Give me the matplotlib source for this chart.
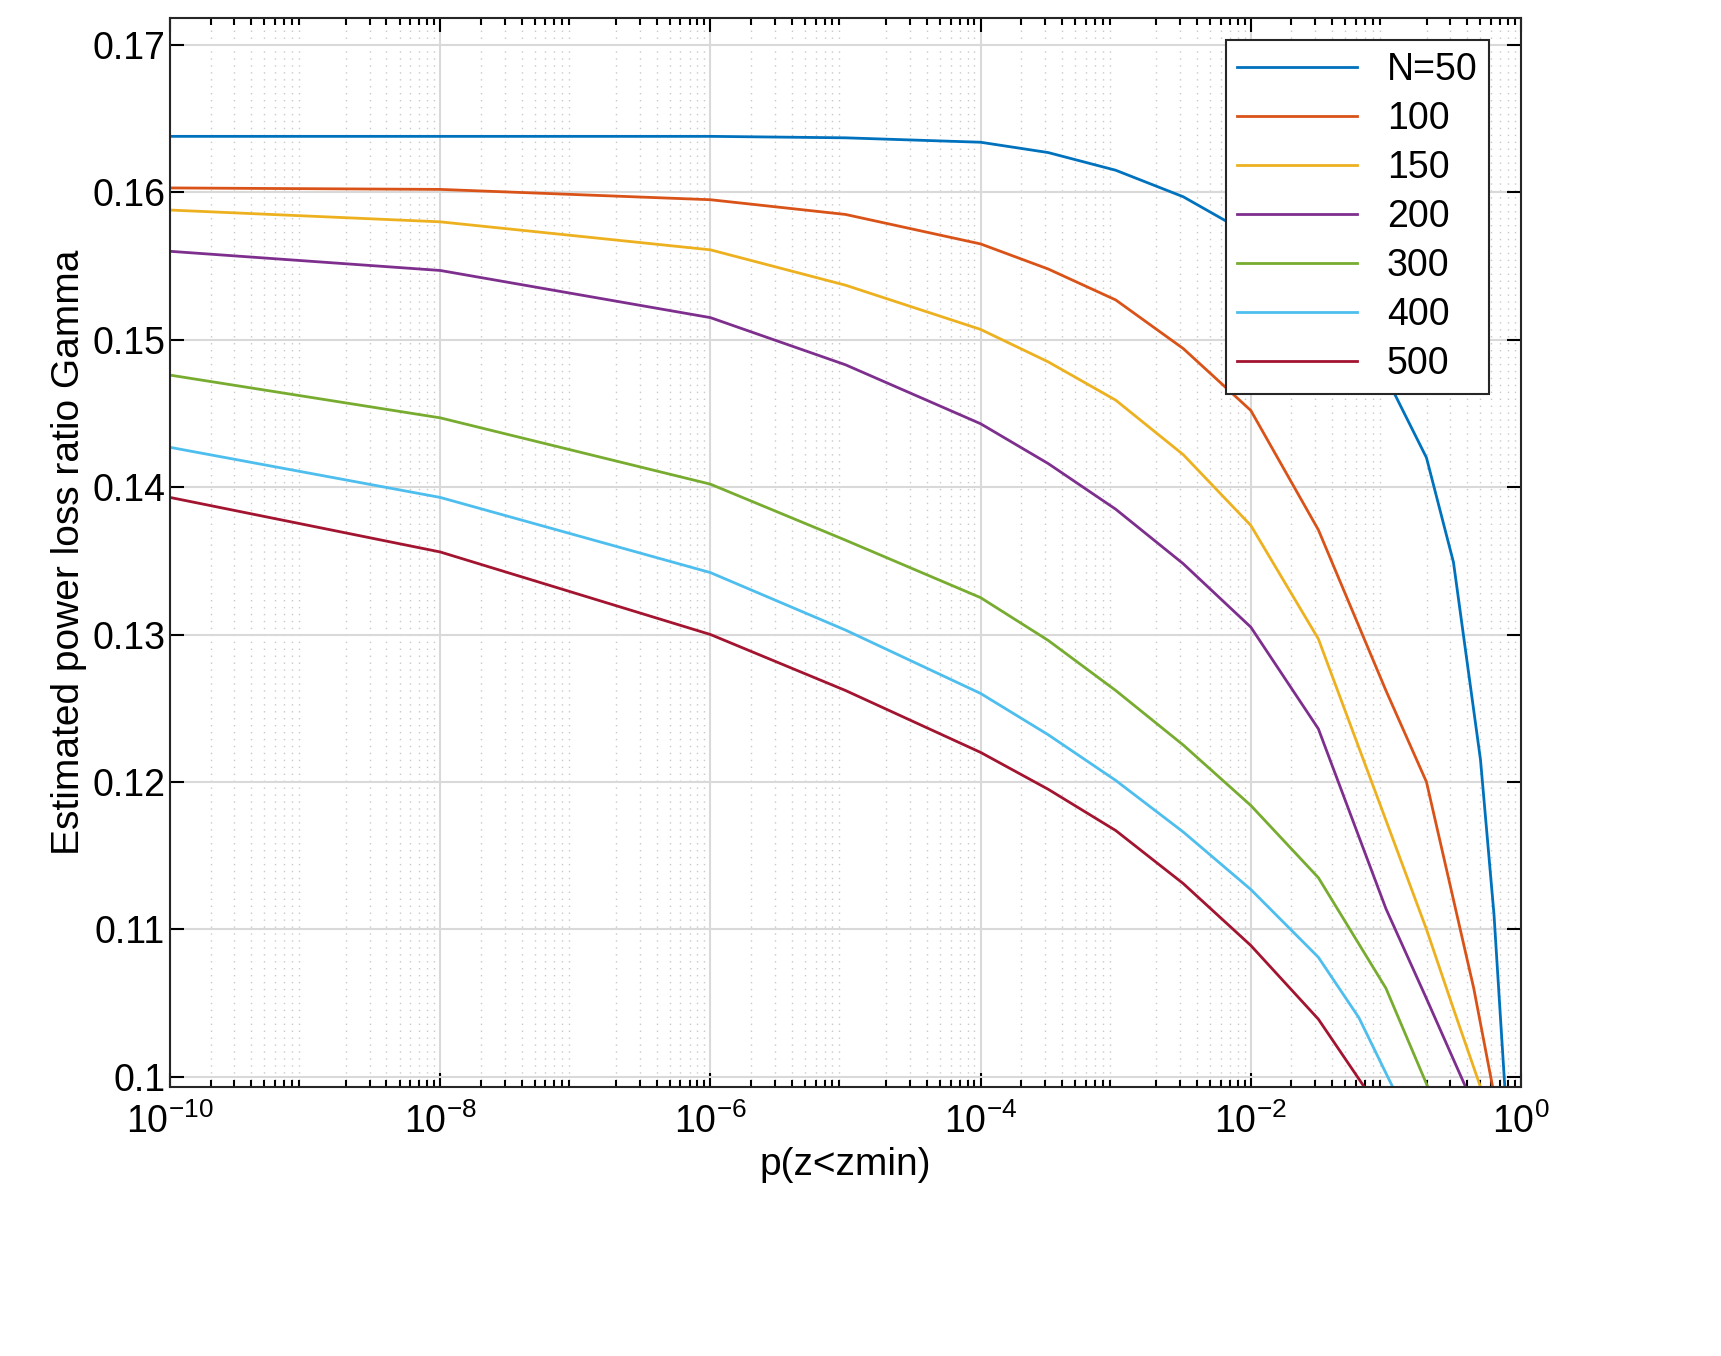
import matplotlib.pyplot as plt
import matplotlib.ticker as mticker
import numpy as np

plt.rcParams['font.family'] = ['Liberation Sans', 'DejaVu Sans']
plt.rcParams['mathtext.fontset'] = 'custom'
plt.rcParams['mathtext.rm'] = 'Liberation Sans'

LABELS = ['N=50', '100', '150', '200', '300', '400', '500']
COLORS = ['#0072BD', '#D95319', '#EDB120', '#7E2F8E', '#77AC30', '#4DBEEE', '#A2142F']

# log10(p) positions and values
LOGP = [
    [-10, -8, -6, -5, -4, -3.5, -3, -2.5, -2, -1.5, -1, -0.7, -0.5, -0.3, -0.2, -0.12],
    [-10, -8, -6, -5, -4, -3.5, -3, -2.5, -2, -1.5, -1, -0.7, -0.5, -0.35, -0.21],
    [-10, -8, -6, -5, -4, -3.5, -3, -2.5, -2, -1.5, -1, -0.7, -0.5, -0.30],
    [-10, -8, -6, -5, -4, -3.5, -3, -2.5, -2, -1.5, -1, -0.7, -0.41],
    [-10, -8, -6, -5, -4, -3.5, -3, -2.5, -2, -1.5, -1.2, -1, -0.69],
    [-10, -8, -6, -5, -4, -3.5, -3, -2.5, -2, -1.5, -1.2, -0.95],
    [-10, -8, -6, -5, -4, -3.5, -3, -2.5, -2, -1.5, -1.16],
]
GAMMA = [
    [0.1638, 0.1638, 0.1638, 0.1637, 0.1634, 0.1627, 0.1615, 0.1597, 0.1571, 0.1534, 0.1475, 0.1420, 0.1349, 0.1215, 0.1110, 0.0993],
    [0.1603, 0.1602, 0.1595, 0.1585, 0.1565, 0.1548, 0.1527, 0.1494, 0.1452, 0.1371, 0.1262, 0.1200, 0.1120, 0.1060, 0.0993],
    [0.1588, 0.1580, 0.1561, 0.1537, 0.1507, 0.1485, 0.1459, 0.1422, 0.1374, 0.1297, 0.1174, 0.1100, 0.1046, 0.0993],
    [0.1560, 0.1547, 0.1515, 0.1483, 0.1443, 0.1416, 0.1385, 0.1348, 0.1305, 0.1236, 0.1114, 0.1053, 0.0993],
    [0.1476, 0.1447, 0.1402, 0.1364, 0.1325, 0.1296, 0.1262, 0.1225, 0.1184, 0.1135, 0.1090, 0.1060, 0.0993],
    [0.1427, 0.1393, 0.1342, 0.1303, 0.1260, 0.1232, 0.1201, 0.1166, 0.1127, 0.1081, 0.1040, 0.0993],
    [0.1393, 0.1356, 0.1300, 0.1262, 0.1220, 0.1195, 0.1167, 0.1131, 0.1089, 0.1039, 0.0993],
]

fig = plt.figure(figsize=(17.21, 13.56), dpi=100)
ax = fig.add_axes([0.0988, 0.1984, 0.785, 0.788])

for lp, g, c, lab in zip(LOGP, GAMMA, COLORS, LABELS):
    ax.plot(10.0 ** np.array(lp), g, color=c, lw=2, label=lab)

ax.set_xscale('log')
ax.set_xlim(1e-10, 1)
ax.set_ylim(0.0993, 0.1718)
ax.set_xticks([1e-10, 1e-8, 1e-6, 1e-4, 1e-2, 1])
ax.set_xticklabels([r'$\mathregular{10^{-10}}$', r'$\mathregular{10^{-8}}$', r'$\mathregular{10^{-6}}$',
                    r'$\mathregular{10^{-4}}$', r'$\mathregular{10^{-2}}$', r'$\mathregular{10^{0}}$'])
ax.xaxis.set_minor_locator(mticker.LogLocator(base=10, subs=np.arange(2, 10), numticks=100))
ax.xaxis.set_minor_formatter(mticker.NullFormatter())
ax.set_yticks([0.10, 0.11, 0.12, 0.13, 0.14, 0.15, 0.16, 0.17])
ax.set_yticklabels(['0.1', '0.11', '0.12', '0.13', '0.14', '0.15', '0.16', '0.17'])

ax.grid(True, which='major', color='#d9d9d9', lw=1.5)
ax.grid(True, which='minor', axis='x', color='#c8c8c8', lw=1.0, ls=(0, (1, 4)))
ax.tick_params(which='both', direction='in', top=True, right=True, labelsize=27, width=1.5)
ax.tick_params(which='major', length=10)
ax.tick_params(which='minor', length=5)
ax.tick_params(axis='x', pad=12)
for s in ax.spines.values():
    s.set_linewidth(1.5)
    s.set_color('#262626')

ax.set_xlabel('p(z<zmin)', fontsize=28)
ax.set_ylabel('Estimated power loss ratio Gamma', fontsize=28)

leg = ax.legend(loc='upper right', fontsize=27, fancybox=False, framealpha=1,
                edgecolor='#262626', handlelength=3.2, borderpad=0.3, labelspacing=0.35,
                bbox_to_anchor=(0.99, 0.997))
leg.get_frame().set_linewidth(1.5)

fig.savefig('out.png', dpi=100)
